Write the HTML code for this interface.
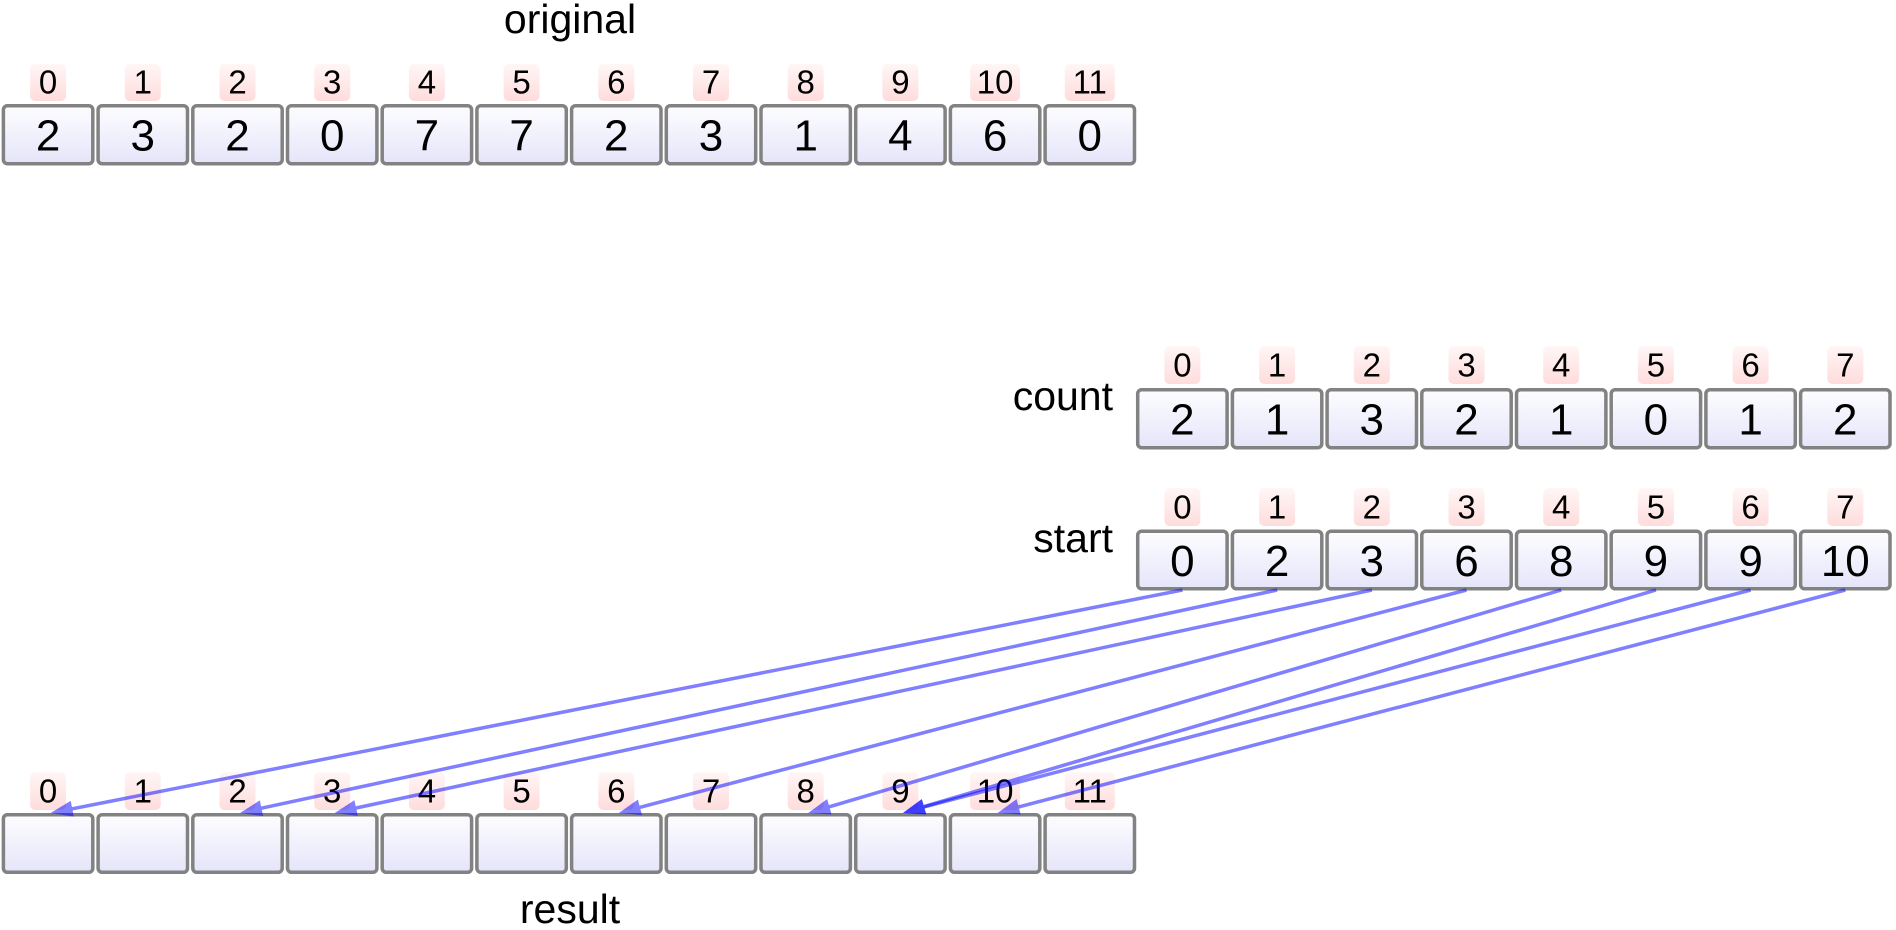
<!DOCTYPE html>
<html>
<head>
<meta charset="utf-8">
<style>
  html,body{margin:0;padding:0;background:#fff;}
  body{width:1896px;height:930px;overflow:hidden;}
  svg{display:block;}
  text{font-family:"Liberation Sans", Arial, sans-serif;fill:#000;}
  .lbl{font-size:41px;}
  .val{font-size:44px;text-anchor:middle;}
  .idx{font-size:33px;text-anchor:middle;}
  .cell{fill:url(#cellg);stroke:#828282;stroke-width:3.5;}
  .pk{fill:url(#pinkg);}
  .ar{stroke:#0000ff;stroke-opacity:0.5;stroke-width:3.5;fill:none;}
  .ah{fill:#0000ff;fill-opacity:0.5;}
</style>
</head>
<body>
<svg width="1896" height="930" viewBox="0 0 1896 930" xmlns="http://www.w3.org/2000/svg">
  <defs>
    <linearGradient id="cellg" x1="0" y1="0" x2="0" y2="1">
      <stop offset="0" stop-color="#fdfdff"/>
      <stop offset="1" stop-color="#e5e5fa"/>
    </linearGradient>
    <linearGradient id="pinkg" x1="0" y1="0" x2="0" y2="1">
      <stop offset="0" stop-color="#fff6f6"/>
      <stop offset="1" stop-color="#ffdcdc"/>
    </linearGradient>
  </defs>

  <!-- ORIGINAL -->
  <text class="lbl" x="570" y="33" text-anchor="middle">original</text>
  <g>
    <rect class="pk" x="30.1" y="64" width="36" height="37" rx="5"/>
    <rect class="pk" x="124.8" y="64" width="36" height="37" rx="5"/>
    <rect class="pk" x="219.5" y="64" width="36" height="37" rx="5"/>
    <rect class="pk" x="314.2" y="64" width="36" height="37" rx="5"/>
    <rect class="pk" x="408.9" y="64" width="36" height="37" rx="5"/>
    <rect class="pk" x="503.6" y="64" width="36" height="37" rx="5"/>
    <rect class="pk" x="598.3" y="64" width="36" height="37" rx="5"/>
    <rect class="pk" x="693.0" y="64" width="36" height="37" rx="5"/>
    <rect class="pk" x="787.7" y="64" width="36" height="37" rx="5"/>
    <rect class="pk" x="882.4" y="64" width="36" height="37" rx="5"/>
    <rect class="pk" x="970.1" y="64" width="50" height="37" rx="5"/>
    <rect class="pk" x="1064.8" y="64" width="50" height="37" rx="5"/>
    <text class="idx" x="48.1" y="93.5">0</text>
    <text class="idx" x="142.8" y="93.5">1</text>
    <text class="idx" x="237.5" y="93.5">2</text>
    <text class="idx" x="332.2" y="93.5">3</text>
    <text class="idx" x="426.9" y="93.5">4</text>
    <text class="idx" x="521.6" y="93.5">5</text>
    <text class="idx" x="616.3" y="93.5">6</text>
    <text class="idx" x="711.0" y="93.5">7</text>
    <text class="idx" x="805.7" y="93.5">8</text>
    <text class="idx" x="900.4" y="93.5">9</text>
    <text class="idx" x="995.1" y="93.5">10</text>
    <text class="idx" x="1089.8" y="93.5">11</text>

    <rect class="cell" x="3.4" y="105.7" width="89.4" height="58" rx="4"/>
    <rect class="cell" x="98.1" y="105.7" width="89.4" height="58" rx="4"/>
    <rect class="cell" x="192.8" y="105.7" width="89.4" height="58" rx="4"/>
    <rect class="cell" x="287.5" y="105.7" width="89.4" height="58" rx="4"/>
    <rect class="cell" x="382.2" y="105.7" width="89.4" height="58" rx="4"/>
    <rect class="cell" x="476.9" y="105.7" width="89.4" height="58" rx="4"/>
    <rect class="cell" x="571.6" y="105.7" width="89.4" height="58" rx="4"/>
    <rect class="cell" x="666.3" y="105.7" width="89.4" height="58" rx="4"/>
    <rect class="cell" x="761.0" y="105.7" width="89.4" height="58" rx="4"/>
    <rect class="cell" x="855.7" y="105.7" width="89.4" height="58" rx="4"/>
    <rect class="cell" x="950.4" y="105.7" width="89.4" height="58" rx="4"/>
    <rect class="cell" x="1045.1" y="105.7" width="89.4" height="58" rx="4"/>
    <text class="val" x="48.1" y="150.5">2</text>
    <text class="val" x="142.8" y="150.5">3</text>
    <text class="val" x="237.5" y="150.5">2</text>
    <text class="val" x="332.2" y="150.5">0</text>
    <text class="val" x="426.9" y="150.5">7</text>
    <text class="val" x="521.6" y="150.5">7</text>
    <text class="val" x="616.3" y="150.5">2</text>
    <text class="val" x="711.0" y="150.5">3</text>
    <text class="val" x="805.7" y="150.5">1</text>
    <text class="val" x="900.4" y="150.5">4</text>
    <text class="val" x="995.1" y="150.5">6</text>
    <text class="val" x="1089.8" y="150.5">0</text>
  </g>

  <!-- COUNT -->
  <text class="lbl" x="1113" y="410" text-anchor="end">count</text>
  <g>
    <rect class="pk" x="1164.4" y="346" width="36" height="38" rx="5"/>
    <rect class="pk" x="1259.1" y="346" width="36" height="38" rx="5"/>
    <rect class="pk" x="1353.8" y="346" width="36" height="38" rx="5"/>
    <rect class="pk" x="1448.5" y="346" width="36" height="38" rx="5"/>
    <rect class="pk" x="1543.2" y="346" width="36" height="38" rx="5"/>
    <rect class="pk" x="1637.9" y="346" width="36" height="38" rx="5"/>
    <rect class="pk" x="1732.6" y="346" width="36" height="38" rx="5"/>
    <rect class="pk" x="1827.3" y="346" width="36" height="38" rx="5"/>
    <text class="idx" x="1182.4" y="376.5">0</text>
    <text class="idx" x="1277.1" y="376.5">1</text>
    <text class="idx" x="1371.8" y="376.5">2</text>
    <text class="idx" x="1466.5" y="376.5">3</text>
    <text class="idx" x="1561.2" y="376.5">4</text>
    <text class="idx" x="1655.9" y="376.5">5</text>
    <text class="idx" x="1750.6" y="376.5">6</text>
    <text class="idx" x="1845.3" y="376.5">7</text>

    <rect class="cell" x="1137.7" y="389.7" width="89.4" height="58" rx="4"/>
    <rect class="cell" x="1232.4" y="389.7" width="89.4" height="58" rx="4"/>
    <rect class="cell" x="1327.1" y="389.7" width="89.4" height="58" rx="4"/>
    <rect class="cell" x="1421.8" y="389.7" width="89.4" height="58" rx="4"/>
    <rect class="cell" x="1516.5" y="389.7" width="89.4" height="58" rx="4"/>
    <rect class="cell" x="1611.2" y="389.7" width="89.4" height="58" rx="4"/>
    <rect class="cell" x="1705.9" y="389.7" width="89.4" height="58" rx="4"/>
    <rect class="cell" x="1800.6" y="389.7" width="89.4" height="58" rx="4"/>
    <text class="val" x="1182.4" y="434.5">2</text>
    <text class="val" x="1277.1" y="434.5">1</text>
    <text class="val" x="1371.8" y="434.5">3</text>
    <text class="val" x="1466.5" y="434.5">2</text>
    <text class="val" x="1561.2" y="434.5">1</text>
    <text class="val" x="1655.9" y="434.5">0</text>
    <text class="val" x="1750.6" y="434.5">1</text>
    <text class="val" x="1845.3" y="434.5">2</text>
  </g>

  <!-- START -->
  <text class="lbl" x="1113" y="552" text-anchor="end">start</text>
  <g>
    <rect class="pk" x="1164.4" y="488" width="36" height="38" rx="5"/>
    <rect class="pk" x="1259.1" y="488" width="36" height="38" rx="5"/>
    <rect class="pk" x="1353.8" y="488" width="36" height="38" rx="5"/>
    <rect class="pk" x="1448.5" y="488" width="36" height="38" rx="5"/>
    <rect class="pk" x="1543.2" y="488" width="36" height="38" rx="5"/>
    <rect class="pk" x="1637.9" y="488" width="36" height="38" rx="5"/>
    <rect class="pk" x="1732.6" y="488" width="36" height="38" rx="5"/>
    <rect class="pk" x="1827.3" y="488" width="36" height="38" rx="5"/>
    <text class="idx" x="1182.4" y="518.5">0</text>
    <text class="idx" x="1277.1" y="518.5">1</text>
    <text class="idx" x="1371.8" y="518.5">2</text>
    <text class="idx" x="1466.5" y="518.5">3</text>
    <text class="idx" x="1561.2" y="518.5">4</text>
    <text class="idx" x="1655.9" y="518.5">5</text>
    <text class="idx" x="1750.6" y="518.5">6</text>
    <text class="idx" x="1845.3" y="518.5">7</text>

    <rect class="cell" x="1137.7" y="531.2" width="89.4" height="57.6" rx="4"/>
    <rect class="cell" x="1232.4" y="531.2" width="89.4" height="57.6" rx="4"/>
    <rect class="cell" x="1327.1" y="531.2" width="89.4" height="57.6" rx="4"/>
    <rect class="cell" x="1421.8" y="531.2" width="89.4" height="57.6" rx="4"/>
    <rect class="cell" x="1516.5" y="531.2" width="89.4" height="57.6" rx="4"/>
    <rect class="cell" x="1611.2" y="531.2" width="89.4" height="57.6" rx="4"/>
    <rect class="cell" x="1705.9" y="531.2" width="89.4" height="57.6" rx="4"/>
    <rect class="cell" x="1800.6" y="531.2" width="89.4" height="57.6" rx="4"/>
    <text class="val" x="1182.4" y="576">0</text>
    <text class="val" x="1277.1" y="576">2</text>
    <text class="val" x="1371.8" y="576">3</text>
    <text class="val" x="1466.5" y="576">6</text>
    <text class="val" x="1561.2" y="576">8</text>
    <text class="val" x="1655.9" y="576">9</text>
    <text class="val" x="1750.6" y="576">9</text>
    <text class="val" x="1845.3" y="576">10</text>
  </g>

  <!-- RESULT -->
  <g>
    <rect class="pk" x="30.1" y="772" width="36" height="38" rx="5"/>
    <rect class="pk" x="124.8" y="772" width="36" height="38" rx="5"/>
    <rect class="pk" x="219.5" y="772" width="36" height="38" rx="5"/>
    <rect class="pk" x="314.2" y="772" width="36" height="38" rx="5"/>
    <rect class="pk" x="408.9" y="772" width="36" height="38" rx="5"/>
    <rect class="pk" x="503.6" y="772" width="36" height="38" rx="5"/>
    <rect class="pk" x="598.3" y="772" width="36" height="38" rx="5"/>
    <rect class="pk" x="693.0" y="772" width="36" height="38" rx="5"/>
    <rect class="pk" x="787.7" y="772" width="36" height="38" rx="5"/>
    <rect class="pk" x="882.4" y="772" width="36" height="38" rx="5"/>
    <rect class="pk" x="970.1" y="772" width="50" height="38" rx="5"/>
    <rect class="pk" x="1064.8" y="772" width="50" height="38" rx="5"/>
    <text class="idx" x="48.1" y="802.5">0</text>
    <text class="idx" x="142.8" y="802.5">1</text>
    <text class="idx" x="237.5" y="802.5">2</text>
    <text class="idx" x="332.2" y="802.5">3</text>
    <text class="idx" x="426.9" y="802.5">4</text>
    <text class="idx" x="521.6" y="802.5">5</text>
    <text class="idx" x="616.3" y="802.5">6</text>
    <text class="idx" x="711.0" y="802.5">7</text>
    <text class="idx" x="805.7" y="802.5">8</text>
    <text class="idx" x="900.4" y="802.5">9</text>
    <text class="idx" x="995.1" y="802.5">10</text>
    <text class="idx" x="1089.8" y="802.5">11</text>

    <rect class="cell" x="3.4" y="814.7" width="89.4" height="57.6" rx="4"/>
    <rect class="cell" x="98.1" y="814.7" width="89.4" height="57.6" rx="4"/>
    <rect class="cell" x="192.8" y="814.7" width="89.4" height="57.6" rx="4"/>
    <rect class="cell" x="287.5" y="814.7" width="89.4" height="57.6" rx="4"/>
    <rect class="cell" x="382.2" y="814.7" width="89.4" height="57.6" rx="4"/>
    <rect class="cell" x="476.9" y="814.7" width="89.4" height="57.6" rx="4"/>
    <rect class="cell" x="571.6" y="814.7" width="89.4" height="57.6" rx="4"/>
    <rect class="cell" x="666.3" y="814.7" width="89.4" height="57.6" rx="4"/>
    <rect class="cell" x="761.0" y="814.7" width="89.4" height="57.6" rx="4"/>
    <rect class="cell" x="855.7" y="814.7" width="89.4" height="57.6" rx="4"/>
    <rect class="cell" x="950.4" y="814.7" width="89.4" height="57.6" rx="4"/>
    <rect class="cell" x="1045.1" y="814.7" width="89.4" height="57.6" rx="4"/>
  </g>
  <text class="lbl" x="570" y="923" text-anchor="middle">result</text>

  <!-- ARROWS -->
  <g>
    <line class="ar" x1="1182.4" y1="590" x2="72.2" y2="808.8"/>
    <line class="ar" x1="1277.1" y1="590" x2="261.4" y2="808.2"/>
    <line class="ar" x1="1371.8" y1="590" x2="356.1" y2="808.0"/>
    <line class="ar" x1="1466.5" y1="590" x2="640.0" y2="807.3"/>
    <line class="ar" x1="1561.2" y1="590" x2="829.3" y2="806.8"/>
    <line class="ar" x1="1655.9" y1="590" x2="924.0" y2="806.6"/>
    <line class="ar" x1="1750.6" y1="590" x2="924.1" y2="806.9"/>
    <line class="ar" x1="1845.3" y1="590" x2="1018.7" y2="806.9"/>

    <polygon class="ah" points="50.6,813 70.7,800.9 73.8,816.6"/>
    <polygon class="ah" points="240.0,813 259.8,800.4 263.1,816.0"/>
    <polygon class="ah" points="334.7,813 354.4,800.2 357.8,815.8"/>
    <polygon class="ah" points="618.8,813 637.9,799.6 642.0,815.1"/>
    <polygon class="ah" points="808.2,813 827.1,799.1 831.6,814.5"/>
    <polygon class="ah" points="902.9,813 921.7,799.0 926.3,814.3"/>
    <polygon class="ah" points="902.9,813 921.9,799.2 926.3,814.6"/>
    <polygon class="ah" points="997.6,813 1016.6,799.1 1020.7,814.6"/>
  </g>
</svg>
</body>
</html>
